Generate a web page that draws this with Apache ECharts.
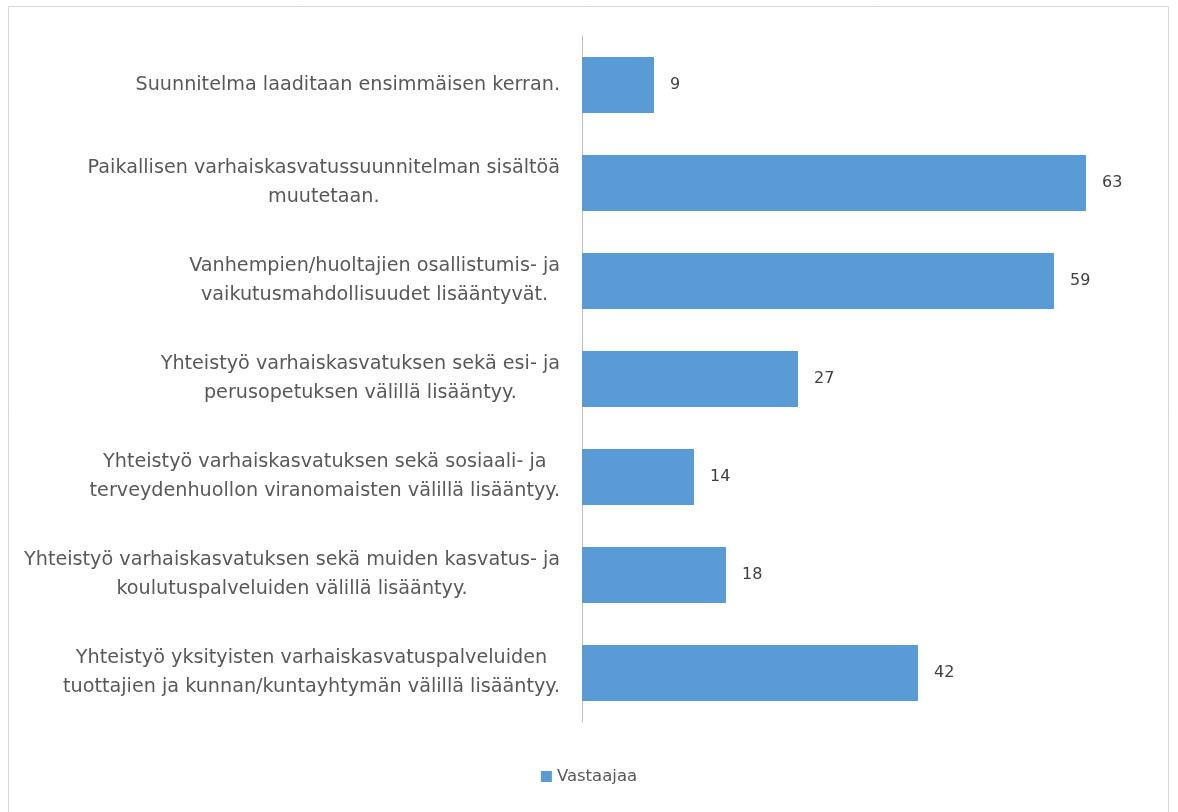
<!DOCTYPE html>
<html><head><meta charset="utf-8">
<script src="https://cdn.jsdelivr.net/npm/echarts@6/dist/echarts.min.js"></script>
<style>html,body{margin:0;padding:0;background:#fff}#c{width:1178px;height:812px}</style>
</head><body><div id="c"></div>
<script>
const categories = [
  "Suunnitelma laaditaan ensimmäisen kerran.",
  "Paikallisen varhaiskasvatussuunnitelman sisältöä\nmuutetaan.",
  "Vanhempien/huoltajien osallistumis- ja\nvaikutusmahdollisuudet lisääntyvät.",
  "Yhteistyö varhaiskasvatuksen sekä esi- ja\nperusopetuksen välillä lisääntyy.",
  "Yhteistyö varhaiskasvatuksen sekä sosiaali- ja\nterveydenhuollon viranomaisten välillä lisääntyy.",
  "Yhteistyö varhaiskasvatuksen sekä muiden kasvatus- ja\nkoulutuspalveluiden välillä lisääntyy.",
  "Yhteistyö yksityisten varhaiskasvatuspalveluiden\ntuottajien ja kunnan/kuntayhtymän välillä lisääntyy."
];
const seriesName = "Vastaajaa";
const values = [9, 63, 59, 27, 14, 18, 42];

const chart = echarts.init(document.getElementById('c'), null, {renderer: 'canvas'});
const font = '"DejaVu Sans", sans-serif';
chart.setOption({
  backgroundColor: '#fff',
  animation: false,
  graphic: [{
    type: 'rect', shape: {x: 8.5, y: 6.5, width: 1160, height: 830},
    style: {fill: 'none', stroke: '#d9d9d9', lineWidth: 1}, silent: true
  }],
  grid: {left: 582, top: 36, width: 560, height: 686, containLabel: false},
  legend: {
    data: [seriesName], bottom: 22, left: 'center', icon: 'rect',
    itemWidth: 11, itemHeight: 11, itemGap: 6,
    textStyle: {color: '#595959', fontSize: 16.5, fontFamily: font}
  },
  xAxis: {type: 'value', min: 0, max: 70, show: false, splitLine: {show: false}},
  yAxis: {
    type: 'category', data: categories, inverse: true,
    axisLine: {show: true, lineStyle: {color: '#bfbfbf', width: 1}},
    axisTick: {show: false},
    axisLabel: {
      margin: 22, align: 'right',
      formatter: v => v.split('\n').map(s => '{c|' + s + '}').join('\n'),
      rich: {c: {align: 'center', color: '#595959', fontSize: 19.2, fontFamily: font, lineHeight: 29}}
    }
  },
  series: [{
    name: seriesName, type: 'bar', data: values, barCategoryGap: '43%',
    itemStyle: {color: '#5b9bd5'},
    label: {show: true, position: 'right', distance: 16, color: '#404040', fontSize: 16, fontFamily: font}
  }]
});
</script></body></html>
